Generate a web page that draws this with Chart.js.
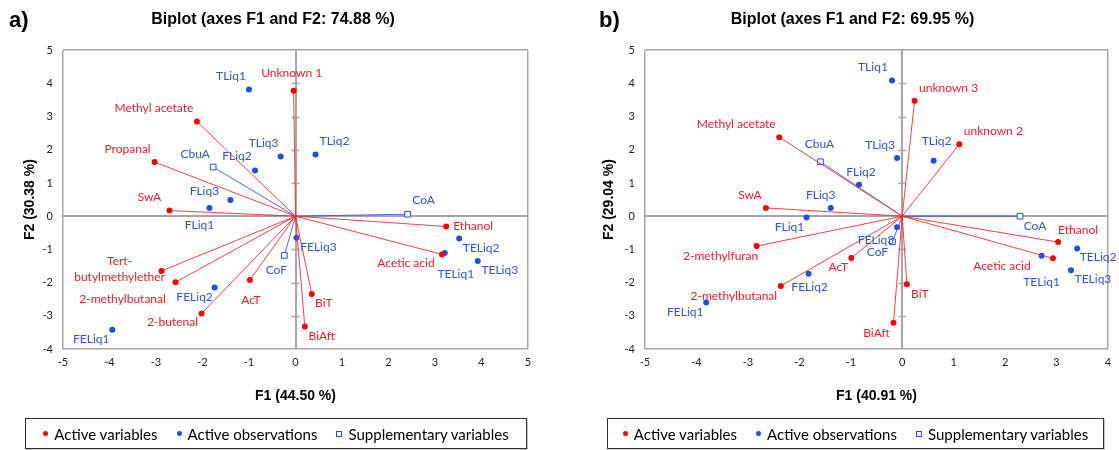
<!DOCTYPE html>
<html>
<head>
<meta charset="utf-8">
<title>PCA biplots</title>
<script src="https://cdn.jsdelivr.net/npm/chart.js@4.4.1/dist/chart.umd.min.js"></script>
<style>
  body { margin: 0; background: #fff; width: 1119px; height: 450px; position: relative; overflow: hidden; }
  .panel { position: absolute; top: 0; width: 560px; height: 450px; }
  .legend {
    position: absolute; top: 418px; height: 31px; box-sizing: border-box;
    border: 1px solid #303030; box-shadow: 1px 1px 0 #c8c8c8;
    display: flex; align-items: center; justify-content: center; gap: 19px;
    font: 15px Lato, "Open Sans", sans-serif; color: #000;
  }
  .legend .item { display: inline-flex; align-items: center; gap: 6px; }
  .mk { display: inline-block; width: 5px; height: 5px; border-radius: 50%; }
  .mk.red { background: #ff0000; }
  .mk.blue { background: #1c4fe3; }
  .mk.sq { border-radius: 0; width: 4px; height: 4px; border: 1px solid #1c4fe3; background: #fff; }
</style>
</head>
<body>
<div class="panel" style="left:0"><canvas id="biplotA" width="560" height="450"></canvas></div>
<div class="panel" style="left:559px"><canvas id="biplotB" width="560" height="450"></canvas></div>

<div class="legend" style="left:25px;width:502px">
  <span class="item"><span class="mk red"></span>Active variables</span>
  <span class="item"><span class="mk blue"></span>Active observations</span>
  <span class="item"><span class="mk sq"></span>Supplementary variables</span>
</div>
<div class="legend" style="left:607px;width:497px">
  <span class="item"><span class="mk red"></span>Active variables</span>
  <span class="item"><span class="mk blue"></span>Active observations</span>
  <span class="item"><span class="mk sq"></span>Supplementary variables</span>
</div>

<script>
// ---- biplot a) ----
const aVarNames = ['Unknown 1', 'Methyl acetate', 'Propanal', 'SwA', 'Ethanol', 'Acetic acid',
  'Tert-butylmethylether', '2-methylbutanal', 'AcT', '2-butenal', 'BiT', 'BiAft'];
const aVarF1 = [-0.04, -2.12, -3.03, -2.71, 3.24, 3.15, -2.88, -2.58, -0.98, -2.02, 0.35, 0.20];
const aVarF2 = [3.78, 2.85, 1.63, 0.17, -0.31, -1.15, -1.65, -1.99, -1.92, -2.93, -2.34, -3.32];

const aObsNames = ['TLiq1', 'TLiq2', 'TLiq3', 'FLiq1', 'FLiq2', 'FLiq3',
  'TELiq1', 'TELiq2', 'TELiq3', 'FELiq1', 'FELiq2', 'FELiq3'];
const aObsF1 = [-1.00, 0.43, -0.32, -1.85, -0.87, -1.40, 3.21, 3.52, 3.92, -3.94, -1.74, 0.02];
const aObsF2 = [3.82, 1.86, 1.80, 0.25, 1.38, 0.49, -1.11, -0.67, -1.35, -3.42, -2.15, -0.65];

const aSupNames = ['CbuA', 'CoA', 'CoF'];
const aSupF1 = [-1.77, 2.41, -0.24];
const aSupF2 = [1.48, 0.06, -1.18];

// ---- biplot b) ----
const bVarNames = ['unknown 3', 'unknown 2', 'Methyl acetate', 'SwA', 'Ethanol', 'Acetic acid',
  '2-methylfuran', '2-methylbutanal', 'AcT', 'BiT', 'BiAft'];
const bVarF1 = [0.24, 1.11, -2.39, -2.65, 3.03, 2.93, -2.83, -2.36, -0.99, 0.09, -0.17];
const bVarF2 = [3.48, 2.17, 2.38, 0.25, -0.78, -1.27, -0.90, -2.10, -1.26, -2.05, -3.21];

const bObsNames = ['TLiq1', 'TLiq2', 'TLiq3', 'FLiq1', 'FLiq2', 'FLiq3',
  'TELiq1', 'TELiq2', 'TELiq3', 'FELiq1', 'FELiq2', 'FELiq3'];
const bObsF1 = [-0.20, 0.61, -0.10, -1.86, -0.84, -1.39, 2.71, 3.40, 3.28, -3.81, -1.82, -0.10];
const bObsF2 = [4.09, 1.67, 1.75, -0.04, 0.95, 0.25, -1.19, -0.97, -1.63, -2.60, -1.73, -0.33];

const bSupNames = ['CbuA', 'CoA', 'CoF'];
const bSupF1 = [-1.59, 2.29, -0.19];
const bSupF2 = [1.64, 0.00, -0.77];

// where each name sits relative to its marker, in pixels
const aLabelPos = {
  'Unknown 1': [-2, -18], 'Methyl acetate': [-43, -13], 'Propanal': [-27, -13], 'SwA': [-20, -13],
  'Ethanol': [27, 0], 'Acetic acid': [-36, 9], 'Tert-butylmethylether': [-42, -2],
  '2-methylbutanal': [-53, 17], 'AcT': [1, 20], '2-butenal': [-29, 9], 'BiT': [12, 9], 'BiAft': [17, 10],
  'TLiq1': [-18, -13], 'TLiq2': [19, -13], 'TLiq3': [-17, -13], 'FLiq1': [-10, 17], 'FLiq2': [-18, -14],
  'FLiq3': [-26, -9], 'TELiq1': [11, 21], 'TELiq2': [22, 10], 'TELiq3': [22, 9], 'FELiq1': [-21, 9],
  'FELiq2': [-20, 10], 'FELiq3': [22, 9],
  'CbuA': [-18, -13], 'CoA': [16, -14], 'CoF': [-8, 15]
};
const bLabelPos = {
  'unknown 3': [34, -13], 'unknown 2': [34, -13], 'Methyl acetate': [-43, -13], 'SwA': [-16, -13],
  'Ethanol': [20, -12], 'Acetic acid': [-51, 8], '2-methylfuran': [-36, 10], '2-methylbutanal': [-47, 10],
  'AcT': [-13, 9], 'BiT': [13, 10], 'BiAft': [-17, 10],
  'TLiq1': [-19, -13], 'TLiq2': [3, -20], 'TLiq3': [-17, -13], 'FLiq1': [-17, 10], 'FLiq2': [2, -13],
  'FLiq3': [-10, -13], 'TELiq1': [0, 26], 'TELiq2': [21, 9], 'TELiq3': [22, 9], 'FELiq1': [-21, 10],
  'FELiq2': [1, 13], 'FELiq3': [-21, 13],
  'CbuA': [-1, -18], 'CoA': [15, 10], 'CoF': [-15, 10]
};

const RED = '#ff0000';
const RED_TEXT = '#ee1c25';
const RED_LINE = 'rgba(255, 30, 30, 0.85)';
const BLUE = '#1c4fe3';
const BLUE_TEXT = '#2f55d4';
const BLUE_LINE = 'rgba(40, 80, 225, 0.85)';
const AXIS_GREY = '#a6a6a6';
const LABEL_FONT = '12px Lato, "Open Sans", sans-serif';

// text labels next to markers, plus the small dashes on the vertical zero axis
const biplotDecor = {
  id: 'biplotDecor',
  beforeDatasetsDraw(chart) {
    const { ctx, scales: { x, y } } = chart;
    const x0 = x.getPixelForValue(0);
    ctx.save();
    ctx.strokeStyle = AXIS_GREY;
    ctx.lineWidth = 1.5;
    y.ticks.forEach(t => {
      if (t.value === 0 || t.value === y.min || t.value === y.max) return;
      const py = Math.round(y.getPixelForValue(t.value)) + 0.5;
      ctx.beginPath();
      ctx.moveTo(x0 - 4, py);
      ctx.lineTo(x0 + 4, py);
      ctx.stroke();
    });
    ctx.restore();
  },
  afterDatasetsDraw(chart, args, opts) {
    const { ctx, scales: { x, y } } = chart;
    ctx.save();
    ctx.font = LABEL_FONT;
    ctx.textAlign = 'center';
    ctx.textBaseline = 'middle';
    chart.data.datasets.forEach(ds => {
      ds.names.forEach((name, i) => {
        const pt = ds.data[ds.tip === undefined ? i : ds.tip];
        const off = opts.pos[name] || [0, -12];
        const px = x.getPixelForValue(pt.x) + off[0];
        const py = y.getPixelForValue(pt.y) + off[1];
        ctx.fillStyle = ds.textColor;
        if (name === 'Tert-butylmethylether') {
          ctx.fillText('Tert-', px, py - 8);
          ctx.fillText('butylmethylether', px, py + 8);
        } else {
          ctx.fillText(name, px, py);
        }
      });
    });
    // panel letter
    ctx.font = 'bold 22px "Liberation Sans", Arial, sans-serif';
    ctx.textAlign = 'left';
    ctx.fillStyle = '#000';
    ctx.fillText(opts.letter, opts.letterX, 21);
    ctx.restore();
  }
};

function buildBiplot(canvasId, p) {
  const datasets = [];
  // active variables: vectors from the origin
  p.varNames.forEach((name, i) => {
    datasets.push({
      names: [name], tip: 1, textColor: RED_TEXT,
      showLine: true,
      data: [{ x: 0, y: 0 }, { x: p.varF1[i], y: p.varF2[i] }],
      borderColor: RED_LINE, borderWidth: 1,
      pointRadius: [0, 3], pointHoverRadius: [0, 3],
      pointBackgroundColor: RED, pointBorderWidth: 0
    });
  });
  // supplementary variables: blue vectors with hollow squares
  p.supNames.forEach((name, i) => {
    datasets.push({
      names: [name], tip: 1, textColor: BLUE_TEXT,
      showLine: true,
      data: [{ x: 0, y: 0 }, { x: p.supF1[i], y: p.supF2[i] }],
      borderColor: BLUE_LINE, borderWidth: 1,
      pointStyle: 'rect', pointRadius: [0, 4], pointHoverRadius: [0, 4],
      pointBackgroundColor: '#fff', pointBorderColor: BLUE, pointBorderWidth: 1
    });
  });
  // active observations
  datasets.push({
    names: p.obsNames, textColor: BLUE_TEXT,
    data: p.obsNames.map((n, i) => ({ x: p.obsF1[i], y: p.obsF2[i] })),
    pointRadius: 3, pointHoverRadius: 3,
    pointBackgroundColor: BLUE, pointBorderWidth: 0
  });

  const tickFont = { family: 'Lato, "Open Sans", sans-serif', size: 11 };
  const titleFont = { family: '"Liberation Sans", Arial, sans-serif', size: 14, weight: 'bold' };
  const frame = (c) => {
    const v = c.tick.value;
    return (v === 0 || v === c.scale.min || v === c.scale.max) ? AXIS_GREY : 'rgba(0,0,0,0)';
  };

  return new Chart(document.getElementById(canvasId), {
    type: 'scatter',
    data: { datasets },
    plugins: [biplotDecor],
    options: {
      responsive: false,
      animation: false,
      devicePixelRatio: 1,
      layout: { padding: { left: p.padLeft, right: p.padRight, top: 0, bottom: 41 } },
      plugins: {
        legend: { display: false },
        tooltip: { enabled: false },
        title: {
          display: true, text: p.title, color: '#000',
          font: { family: '"Liberation Sans", Arial, sans-serif', size: 16, weight: 'bold' },
          padding: { top: 10, bottom: 21 }
        },
        biplotDecor: { pos: p.labelPos, letter: p.letter, letterX: p.letterX }
      },
      scales: {
        x: {
          type: 'linear', min: -5, max: p.xMax,
          ticks: { stepSize: 1, color: '#222', font: tickFont, padding: 7, maxRotation: 0 },
          grid: { color: frame, lineWidth: c => c.tick.value === 0 ? 2 : 1.5, drawTicks: false },
          border: { display: false },
          title: { display: true, text: p.xTitle, color: '#000', font: titleFont },
          afterFit: s => { s.height = 60; }
        },
        y: {
          type: 'linear', min: -4, max: 5,
          ticks: { stepSize: 1, color: '#222', font: tickFont, padding: 10 },
          grid: { color: frame, lineWidth: c => c.tick.value === 0 ? 2 : 1.5, drawTicks: false },
          border: { display: false },
          title: { display: true, text: p.yTitle, color: '#000', font: titleFont },
          afterFit: s => { s.width = p.yWidth; }
        }
      }
    }
  });
}

buildBiplot('biplotA', {
  varNames: aVarNames, varF1: aVarF1, varF2: aVarF2,
  obsNames: aObsNames, obsF1: aObsF1, obsF2: aObsF2,
  supNames: aSupNames, supF1: aSupF1, supF2: aSupF2,
  labelPos: aLabelPos, xMax: 5,
  title: 'Biplot (axes F1 and F2: 74.88 %)',
  xTitle: 'F1 (44.50 %)', yTitle: 'F2 (30.38 %)',
  letter: 'a)', letterX: 9,
  padLeft: 18, padRight: 32, yWidth: 45
});

buildBiplot('biplotB', {
  varNames: bVarNames, varF1: bVarF1, varF2: bVarF2,
  obsNames: bObsNames, obsF1: bObsF1, obsF2: bObsF2,
  supNames: bSupNames, supF1: bSupF1, supF2: bSupF2,
  labelPos: bLabelPos, xMax: 4,
  title: 'Biplot (axes F1 and F2: 69.95 %)',
  xTitle: 'F1 (40.91 %)', yTitle: 'F2 (29.04 %)',
  letter: 'b)', letterX: 40,
  padLeft: 38, padRight: 11, yWidth: 48
});
</script>
</body>
</html>
